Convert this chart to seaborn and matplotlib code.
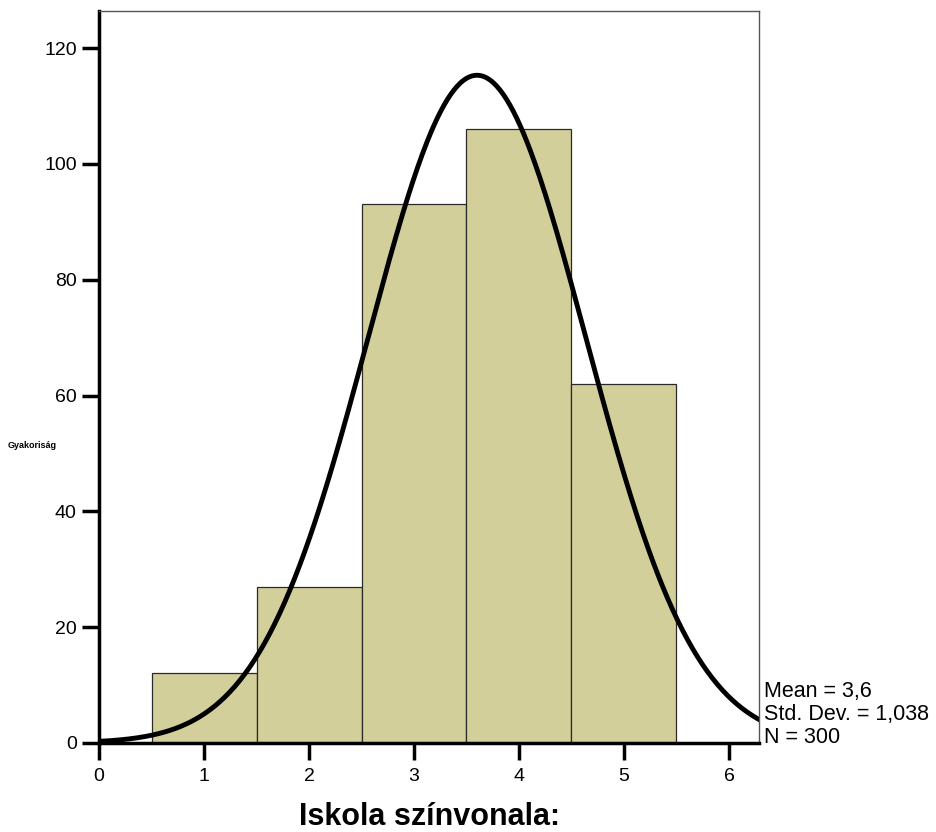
import numpy as np
import pandas as pd
import matplotlib
matplotlib.use("Agg")
import matplotlib.pyplot as plt
import seaborn as sns

# Data
categories = [1, 2, 3, 4, 5]
counts = [12, 27, 93, 106, 62]
bin_edges = [0.5, 1.5, 2.5, 3.5, 4.5, 5.5]
mean_val = 3.6
std_val = 1.038
n_val = 300
x_ticks = [0, 1, 2, 3, 4, 5, 6]
y_ticks = [0, 20, 40, 60, 80, 100, 120]

sns.set_style("ticks")
plt.rcParams['font.family'] = ['Liberation Sans', 'DejaVu Sans']
plt.rcParams['text.color'] = 'black'
plt.rcParams['axes.labelcolor'] = 'black'
plt.rcParams['xtick.color'] = 'black'
plt.rcParams['ytick.color'] = 'black'

fig = plt.figure(figsize=(9.36, 8.32), dpi=100)
ax = fig.add_axes([0.1058, 0.107, 0.7051, 0.8798])

df = pd.DataFrame({"value": categories, "count": counts})
sns.histplot(data=df, x="value", weights="count", bins=bin_edges, ax=ax,
             color="#d3cf9b", alpha=1.0, edgecolor="#2a2a2a", linewidth=0.9)

xs = np.linspace(0, 6.3, 400)
binw = 1.0
ys = n_val * binw / (std_val * np.sqrt(2 * np.pi)) * np.exp(-0.5 * ((xs - mean_val) / std_val) ** 2)
sns.lineplot(x=xs, y=ys, ax=ax, color="black", linewidth=3.5)

ax.set_xlim(0, 6.286)
ax.set_ylim(0, 126.4)
ax.set_xticks(x_ticks)
ax.set_yticks(y_ticks)
ax.tick_params(axis='both', direction='out', length=12, width=2.5, labelsize=14,
               color='black', labelcolor='black')
ax.tick_params(axis='x', pad=6)
ax.tick_params(axis='y', pad=4)

for s in ['left', 'bottom']:
    ax.spines[s].set_visible(True)
    ax.spines[s].set_color('black')
    ax.spines[s].set_linewidth(2.5)
for s in ['top', 'right']:
    ax.spines[s].set_visible(True)
    ax.spines[s].set_color('#555555')
    ax.spines[s].set_linewidth(1.0)

ax.set_xlabel("Iskola színvonala:", fontsize=22, fontweight='bold', labelpad=12, color='black')
ax.set_ylabel("")
fig.text(0.034, 0.465, "Gyakoriság", fontsize=6.5, fontweight='bold', ha='center', va='center')

fig.text(0.8162, 0.101, "Mean = 3,6\nStd. Dev. = 1,038\nN = 300", fontsize=15.5,
         ha='left', va='bottom', linespacing=1.12)

fig.savefig("out.png", dpi=100)
